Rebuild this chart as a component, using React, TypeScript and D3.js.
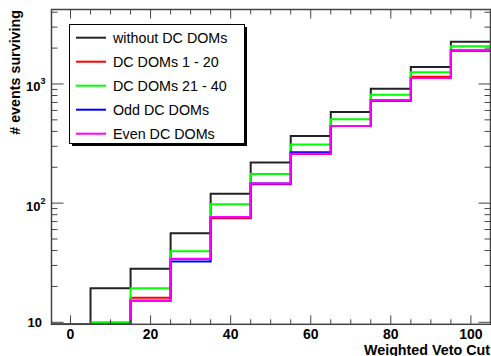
import React from "react";
import * as d3 from "d3";

const binCenters = [0, 10, 20, 30, 40, 50, 60, 70, 80, 90, 100];
const binWidth = 10;
const withoutDC = [0, 19.3, 28.2, 56, 120, 219, 366, 582, 914, 1389, 2265];
const dc1to20 = [0, 0, 16.1, 34, 74.5, 144, 258, 443, 730, 1150, 1900];
const dc21to40 = [0, 10, 19.3, 39.4, 97.8, 176, 310, 506, 813, 1254, 2071];
const oddDC = [0, 0, 15.2, 32.3, 76, 146, 267, 445, 724, 1123, 1906];
const evenDC = [0, 0, 15.2, 34.2, 76.5, 146, 260, 445, 734, 1123, 1906];

const seriesNames = ["without DC DOMs", "DC DOMs 1 - 20", "DC DOMs 21 - 40", "Odd DC DOMs", "Even DC DOMs"];
const seriesColors = ["#222222", "#ff0000", "#00ff00", "#0000ff", "#ff00ff"];
const seriesData = [withoutDC, dc1to20, dc21to40, oddDC, evenDC];

const xTickLabels = [0, 20, 40, 60, 80, 100];
const yDecades = [1, 2, 3];

const W = 491;
const H = 356;
const left = 51.5;
const right = 490.5;
const top = 9.5;
const bottom = 324.3;

export default function App() {
  const x = d3.scaleLinear().domain([-4.75, 104.9]).range([left, right]);
  const yMin = 9.62;
  const y = d3.scaleLog().domain([yMin, 4217]).range([bottom, top]);

  const stepPath = (vals: number[]) => {
    const pts: [number, number][] = [];
    vals.forEach((v, i) => {
      const vv = Math.max(v, yMin);
      const c = binCenters[i];
      pts.push([x(c - binWidth / 2), y(vv)]);
      pts.push([x(c + binWidth / 2), y(vv)]);
    });
    return d3.line()(pts) as string;
  };

  const majorX = d3.range(0, 101, 20);
  const minorX = d3.range(-5, 106, 5).filter((v) => v % 20 !== 0 && v >= -4.75 && v <= 104.9);
  const minorY: number[] = [];
  [10, 100, 1000].forEach((d) => {
    for (let k = 2; k <= 9; k++) {
      const v = k * d;
      if (v <= 4217) minorY.push(v);
    }
  });
  const majorY = yDecades.map((e) => Math.pow(10, e));

  const axisColor = "#444";
  const font = "'Liberation Sans', Arial, Helvetica, sans-serif";

  return (
    <svg width={W} height={H} style={{ position: "fixed", left: 0, top: 0, display: "block" }} fontFamily={font}>
      <rect x={0} y={0} width={W} height={H} fill="#fff" />
      <defs>
        <clipPath id="frame">
          <rect x={left} y={top} width={right - left} height={bottom - top} />
        </clipPath>
      </defs>
      {/* histograms */}
      <g clipPath="url(#frame)" fill="none">
        {seriesData.map((vals, i) => (
          <path key={i} d={stepPath(vals)} stroke={seriesColors[i]} strokeWidth={2} />
        ))}
      </g>
      {/* frame */}
      <rect x={left} y={top} width={right - left} height={bottom - top} fill="none" stroke={axisColor} strokeWidth={1.5} />
      {/* x ticks bottom & top */}
      {majorX.map((v) => (
        <g key={"mx" + v}>
          <line x1={x(v)} x2={x(v)} y1={bottom} y2={bottom - 9} stroke={axisColor} strokeWidth={1} />
          <line x1={x(v)} x2={x(v)} y1={top} y2={top + 9} stroke={axisColor} strokeWidth={1} />
        </g>
      ))}
      {minorX.map((v) => (
        <g key={"nx" + v}>
          <line x1={x(v)} x2={x(v)} y1={bottom} y2={bottom - 5} stroke={axisColor} strokeWidth={1} />
          <line x1={x(v)} x2={x(v)} y1={top} y2={top + 5} stroke={axisColor} strokeWidth={1} />
        </g>
      ))}
      {/* y ticks left & right */}
      {majorY.map((v) => (
        <g key={"my" + v}>
          <line x1={left} x2={left + 12} y1={y(v)} y2={y(v)} stroke={axisColor} strokeWidth={1} />
          <line x1={right} x2={right - 12} y1={y(v)} y2={y(v)} stroke={axisColor} strokeWidth={1} />
        </g>
      ))}
      {minorY.map((v) => (
        <g key={"ny" + v}>
          <line x1={left} x2={left + 6} y1={y(v)} y2={y(v)} stroke={axisColor} strokeWidth={1} />
          <line x1={right} x2={right - 6} y1={y(v)} y2={y(v)} stroke={axisColor} strokeWidth={1} />
        </g>
      ))}
      {/* x tick labels */}
      {xTickLabels.map((v) => (
        <text key={"xl" + v} x={x(v)} y={339} textAnchor="middle" fontSize={14} fontWeight="bold" fill="#000">
          {v}
        </text>
      ))}
      {/* y tick labels */}
      {yDecades.map((e) =>
        e === 1 ? (
          <text key={"yl" + e} x={42} y={y(10) + 4.5} textAnchor="end" fontSize={13} fontWeight="bold" fill="#000">
            10
          </text>
        ) : (
          <text key={"yl" + e} x={26} y={y(Math.pow(10, e)) + 7.5} textAnchor="start" fontSize={13} fontWeight="bold" fill="#000">
            10
            <tspan dy={-7} fontSize={9}>
              {e}
            </tspan>
          </text>
        )
      )}
      {/* axis titles */}
      <text x={490} y={354.5} textAnchor="end" fontSize={14.3} fontWeight="bold" fill="#000">
        Weighted Veto Cut
      </text>
      <text transform="translate(20,10) rotate(-90)" textAnchor="end" fontSize={14.3} fontWeight="bold" fill="#000">
        # events surviving
      </text>
      {/* legend */}
      <rect x={72} y={27} width={175} height={119} fill="#000" />
      <rect x={69.5} y={24.5} width={175} height={119} fill="#fff" stroke="#000" strokeWidth={1} />
      {seriesNames.map((name, i) => {
        const cy = 37.7 + i * 24;
        return (
          <g key={"lg" + i}>
            <line x1={76} x2={106} y1={cy} y2={cy} stroke={seriesColors[i]} strokeWidth={2} />
            <text x={113} y={cy + 5} fontSize={14.3} fill="#000">
              {name}
            </text>
          </g>
        );
      })}
    </svg>
  );
}
